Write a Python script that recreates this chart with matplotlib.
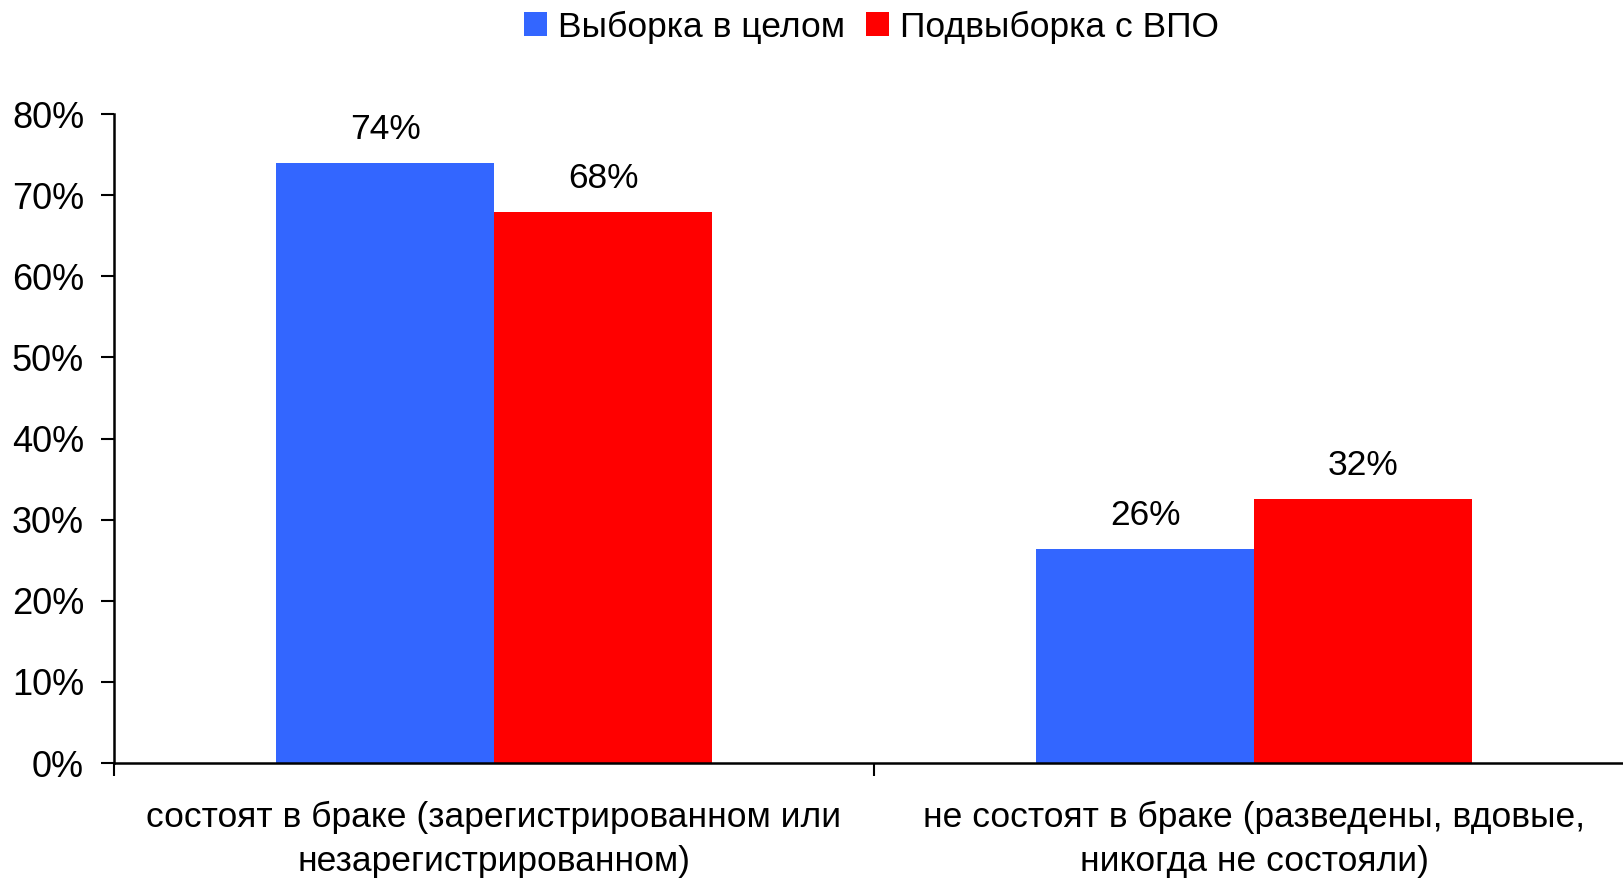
import matplotlib
matplotlib.use("Agg")
import matplotlib.pyplot as plt
import numpy as np

plt.rcParams['font.family'] = ['Liberation Sans', 'DejaVu Sans']

categories = ["состоят в браке (зарегистрированном или\nнезарегистрированном)",
              "не состоят в браке (разведены, вдовые,\nникогда не состояли)"]
series_names = ["Выборка в целом", "Подвыборка с ВПО"]
whole_sample = [0.740, 0.264]
vpo_sample = [0.679, 0.326]
value_labels_whole = ["74%", "26%"]
value_labels_vpo = ["68%", "32%"]
colors = ["#3366FF", "#FF0000"]

fig = plt.figure(figsize=(16.23, 8.82), dpi=100)
ax = fig.add_axes([0.0702, 0.1349, 0.9298, 0.7358])

x = np.arange(len(categories))
w = 0.2867
b1 = ax.bar(x - w / 2, whole_sample, w, color=colors[0], label=series_names[0])
b2 = ax.bar(x + w / 2, vpo_sample, w, color=colors[1], label=series_names[1])

for bars, labels in ((b1, value_labels_whole), (b2, value_labels_vpo)):
    for rect, lab in zip(bars, labels):
        ax.annotate(lab, (rect.get_x() + rect.get_width() / 2, rect.get_height()),
                    textcoords="offset points", xytext=(0, 24),
                    ha='center', va='center', fontsize=25.5)

ax.set_xlim(-0.5, 1.485)
ax.set_ylim(0, 0.8)
ax.set_yticks(np.arange(0, 0.81, 0.1))
ax.set_yticklabels([f"{int(round(v * 100))}%" for v in np.arange(0, 0.81, 0.1)], fontsize=26)

ax.set_xticks(x)
ax.set_xticklabels(categories, fontsize=25.5, linespacing=1.45)
ax.tick_params(axis='x', which='major', length=0, pad=27)
ax.set_xticks([-0.5, 0.5], minor=True)
ax.tick_params(axis='x', which='minor', length=9, width=1.5, direction='out')
ax.tick_params(axis='y', length=9.5, width=1.5, direction='out', pad=12)

for s in ('top', 'right'):
    ax.spines[s].set_visible(False)
for s in ('left', 'bottom'):
    ax.spines[s].set_linewidth(1.8)

fig.legend(loc='center', bbox_to_anchor=(0.537, 1 - 27 / 882), ncol=2, frameon=False,
           fontsize=25.5, handlelength=0.65, handleheight=0.65, handletextpad=0.3,
           columnspacing=0.6, borderaxespad=0.2)

fig.savefig("out.png", dpi=100)
